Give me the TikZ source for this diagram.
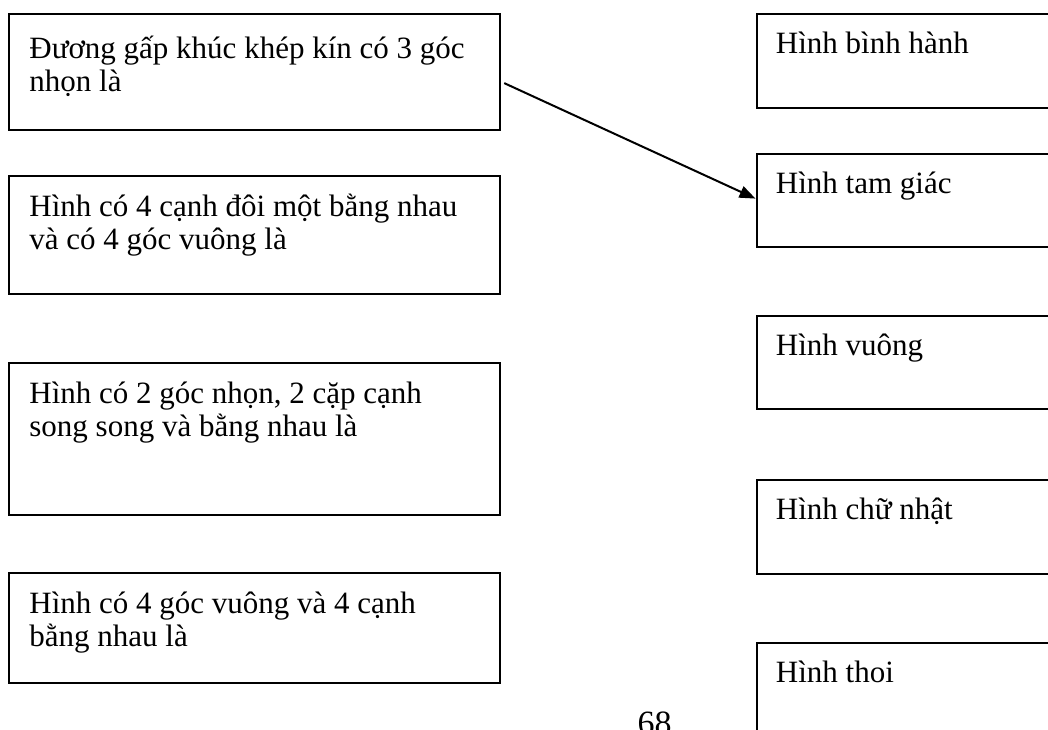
\documentclass[tikz,border=0pt]{standalone}
\usepackage{fontspec}
\setmainfont{Liberation Serif}
\usetikzlibrary{arrows.meta,calc}
\newcommand{\vs}{\rule{0pt}{16pt}}
\begin{document}
\begin{tikzpicture}[x=0.5pt,y=-0.5pt,
  box/.style={draw, line width=1.1pt, inner sep=0pt, anchor=north west},
  lbox/.style={box, minimum width=245.5pt},
  rbox/.style={box, minimum width=152.25pt},
  txt/.style={anchor=north west, inner sep=0pt, align=left, font=\fontsize{15.5}{16.5}\selectfont},
  link/.style={line width=1pt, -{Triangle[length=8pt,width=6pt]}}]
\useasboundingbox (0,0) rectangle (1048,729);
\clip (0,0) rectangle (1048,729);
% left boxes
\node[lbox, minimum height=58pt] (L1) at (8,13) {};
\node[lbox, minimum height=59pt] (L2) at (8,175) {};
\node[lbox, minimum height=76pt] (L3) at (8,362) {};
\node[lbox, minimum height=55pt] (L4) at (8,572) {};
\node[txt] (L1t) at ($(L1.north west)+(21,13)$) {\vs Đương gấp khúc khép kín có 3 góc\\nhọn là};
\node[txt] (L2t) at ($(L2.north west)+(21,9)$) {\vs Hình có 4 cạnh đôi một bằng nhau\\và có 4 góc vuông là};
\node[txt] (L3t) at ($(L3.north west)+(21,9)$) {\vs Hình có 2 góc nhọn, 2 cặp cạnh\\song song và bằng nhau là};
\node[txt] (L4t) at ($(L4.north west)+(21,9)$) {\vs Hình có 4 góc vuông và 4 cạnh\\bằng nhau là};
% right boxes
\node[rbox, minimum height=47pt] (R1) at (755.5,13) {};
\node[rbox, minimum height=46.5pt] (R2) at (755.5,153) {};
\node[rbox, minimum height=46.5pt] (R3) at (755.5,315) {};
\node[rbox, minimum height=47pt] (R4) at (755.5,479) {};
\node[rbox, minimum height=60pt] (R5) at (755.5,642) {};
\node[txt] (R1t) at ($(R1.north west)+(20,8)$) {\vs Hình bình hành};
\node[txt] (R2t) at ($(R2.north west)+(20,8)$) {\vs Hình tam giác};
\node[txt] (R3t) at ($(R3.north west)+(20,8)$) {\vs Hình vuông};
\node[txt] (R4t) at ($(R4.north west)+(20,8)$) {\vs Hình chữ nhật};
\node[txt] (R5t) at ($(R5.north west)+(20,8)$) {\vs Hình thoi};
% connector
\draw[link] ($(L1.east)+(3,11)$) -- ($(R2.west)+(0,-2)$);
% page number
\node[font=\fontsize{17}{20}\selectfont, anchor=base, inner sep=0pt] (pg) at (654.5,734) {68};
\end{tikzpicture}
\end{document}
